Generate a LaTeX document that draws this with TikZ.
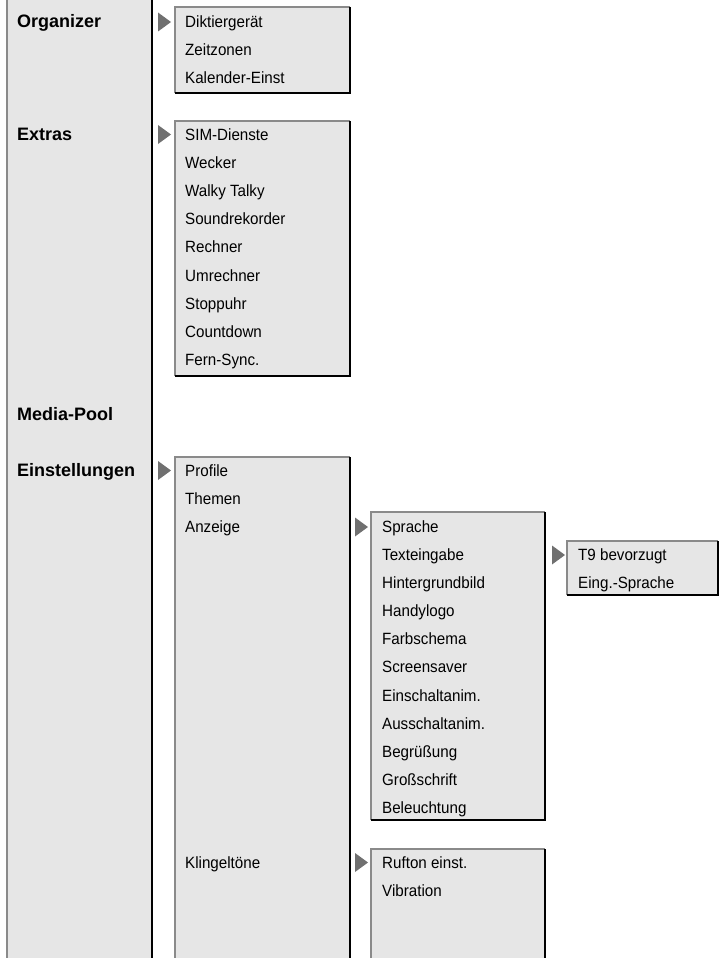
\documentclass[tikz,border=0pt]{standalone}
\usepackage{fontspec}
\setmainfont{Liberation Sans}[FakeStretch=0.93]
\newfontfamily\lablfont{Liberation Sans}
\definecolor{boxgray}{HTML}{E6E6E6}
\definecolor{edgegray}{HTML}{8A8A8A}
\definecolor{arrowgray}{HTML}{707070}
\tikzset{
  boxfill/.style={fill=boxgray, draw=none},
  lite/.style={draw=edgegray, line width=1.7pt},
  dark/.style={draw=black, line width=2.8pt},
  mainlabel/.style={anchor=base west, inner sep=0pt, font=\lablfont\bfseries\fontsize{18}{20}\selectfont},
  item/.style={anchor=base west, inner sep=0pt, font=\fontsize{16.3}{18}\selectfont},
  tri/.style={fill=arrowgray, draw=none}
}
\newcommand{\mnubox}[4]{%
  \fill[boxfill] (#1,#2) rectangle (#3,#4);
  \draw[lite] (#1,#4) -- (#1,#2) -- (#3,#2);
  \draw[dark] (#3,#2) -- (#3,#4) -- (#1,#4);
}
\newcommand{\mnutri}[2]{%
  \fill[tri] (#1,#2-9.5) -- (#1+13,#2) -- (#1,#2+9.5) -- cycle;
}
\begin{document}
\begin{tikzpicture}[x=1pt,y=-1pt]
\useasboundingbox (0,0) rectangle (719,958);
% main column
\fill[boxfill] (7,-5) rectangle (152,965);
\draw[lite] (7,-5) -- (7,965);
\draw[dark] (152,-5) -- (152,965);
% boxes
\mnubox{175}{7}{350}{93}
\mnubox{175}{121}{350}{376}
\mnubox{175}{457}{350}{966}
\mnubox{371}{512}{545}{820}
\mnubox{567}{541}{718}{595}
\mnubox{371}{849}{545}{966}
% arrows
\mnutri{158}{22}
\mnutri{158}{134.5}
\mnutri{158}{470.5}
\mnutri{355}{527}
\mnutri{552}{555}
\mnutri{355}{862.5}
% main labels
\node[mainlabel] (organizer) at (17,27.5) {Organizer};
\node[mainlabel] (extras) at (17,140) {Extras};
\node[mainlabel] (mediapool) at (17,420) {Media-Pool};
\node[mainlabel] (einst) at (17,476) {Einstellungen};
% organizer
\node[item] (o1) at (185,27.5) {Diktiergerät};
\node[item] (o2) at (185,55.7) {Zeitzonen};
\node[item] (o3) at (185,83.9) {Kalender-Einst};
% extras
\node[item] (e1) at (185,140) {SIM-Dienste};
\node[item] (e2) at (185,168.2) {Wecker};
\node[item] (e3) at (185,196.4) {Walky Talky};
\node[item] (e4) at (185,224.6) {Soundrekorder};
\node[item] (e5) at (185,252.8) {Rechner};
\node[item] (e6) at (185,281) {Umrechner};
\node[item] (e7) at (185,309.2) {Stoppuhr};
\node[item] (e8) at (185,337.4) {Countdown};
\node[item] (e9) at (185,365.6) {Fern-Sync.};
% einstellungen
\node[item] (s1) at (185,476) {Profile};
\node[item] (s2) at (185,504.2) {Themen};
\node[item] (s3) at (185,532.4) {Anzeige};
\node[item] (s4) at (185,868) {Klingeltöne};
% anzeige
\node[item] (a1) at (382,532.4) {Sprache};
\node[item] (a2) at (382,560.5) {Texteingabe};
\node[item] (a3) at (382,588.6) {Hintergrundbild};
\node[item] (a4) at (382,616.7) {Handylogo};
\node[item] (a5) at (382,644.8) {Farbschema};
\node[item] (a6) at (382,672.9) {Screensaver};
\node[item] (a7) at (382,701) {Einschaltanim.};
\node[item] (a8) at (382,729.1) {Ausschaltanim.};
\node[item] (a9) at (382,757.2) {Begrüßung};
\node[item] (a10) at (382,785.3) {Großschrift};
\node[item] (a11) at (382,813.4) {Beleuchtung};
% texteingabe
\node[item] (t1) at (578,560.5) {T9 bevorzugt};
\node[item] (t2) at (578,588.6) {Eing.-Sprache};
% klingeltoene
\node[item] (k1) at (382,868) {Rufton einst.};
\node[item] (k2) at (382,896.2) {Vibration};
\end{tikzpicture}
\end{document}
